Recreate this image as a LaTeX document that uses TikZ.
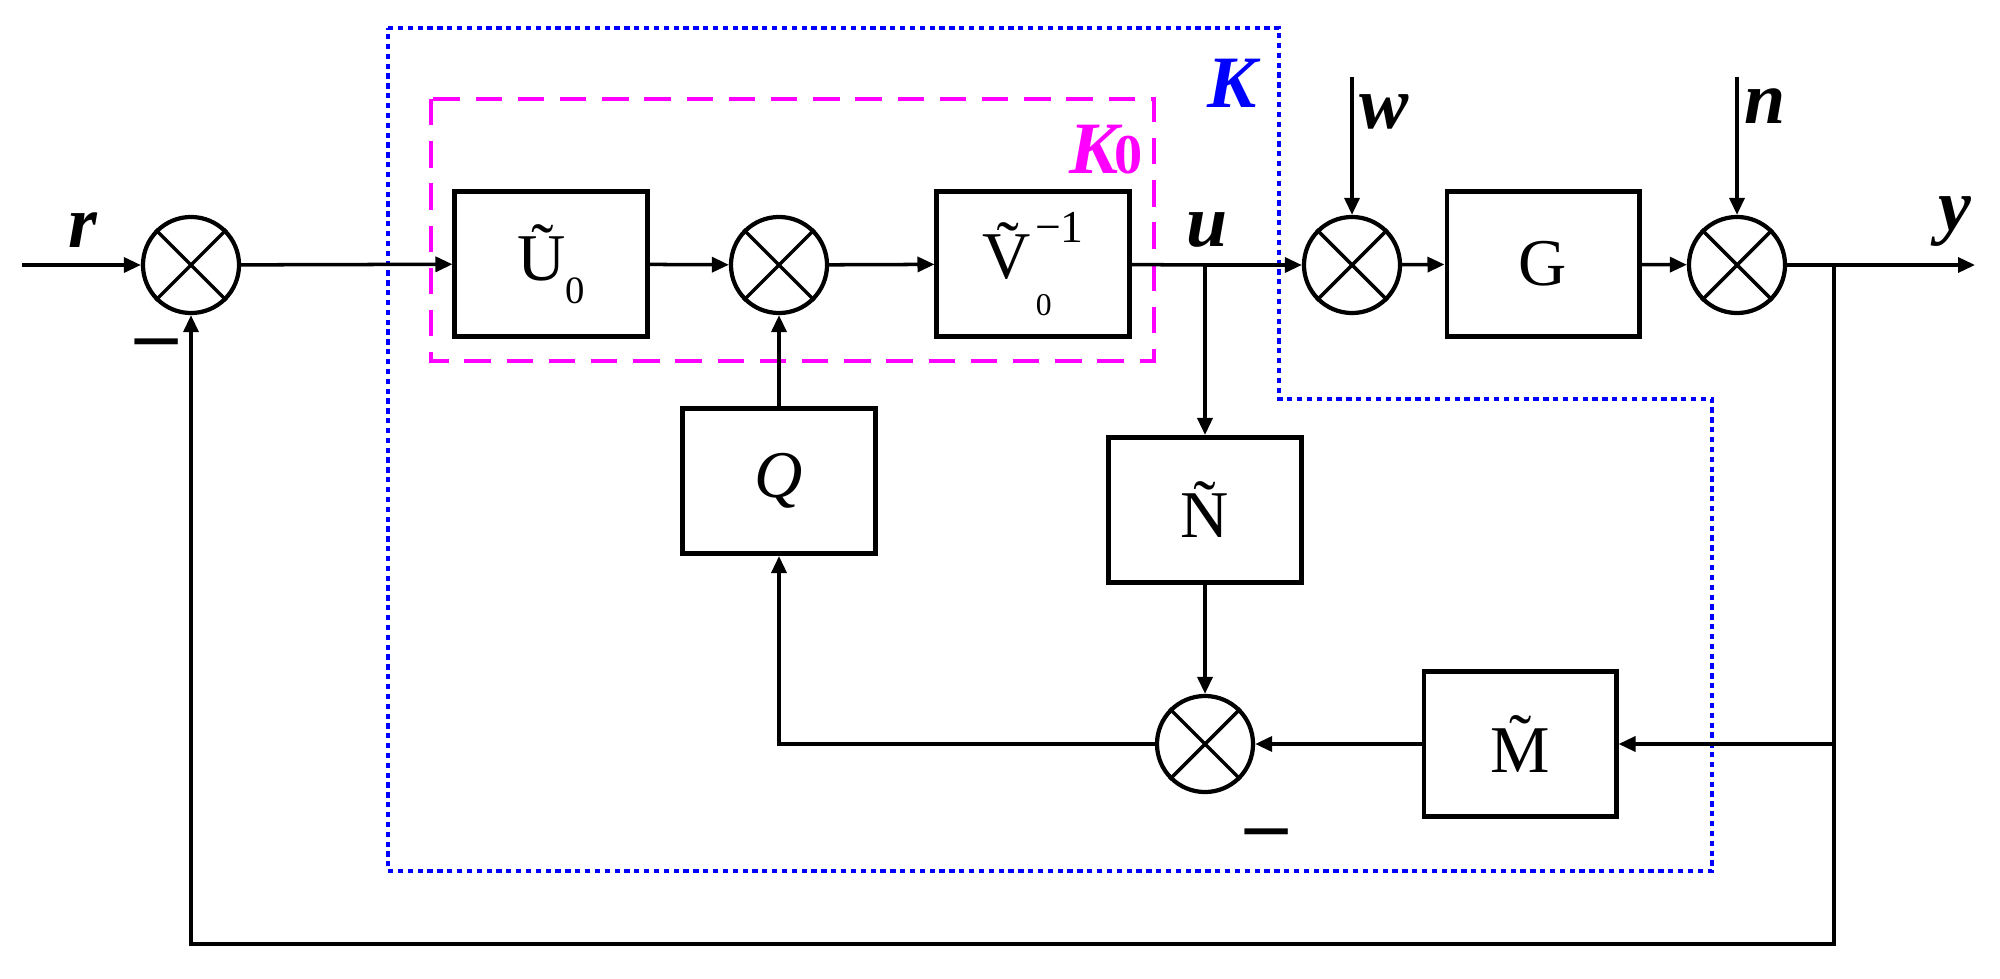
\documentclass[tikz,border=0pt]{standalone}
\usepackage{fontspec}
\setmainfont{Liberation Serif}
\usetikzlibrary{arrows.meta}
\definecolor{kmag}{RGB}{255,0,255}
\definecolor{kblue}{RGB}{0,0,255}
\begin{document}
\begin{tikzpicture}[x=0.01cm,y=-0.01cm,
  line/.style={line width=1pt},
  arr/.style={line width=1pt,-{Triangle[length=0.17cm,width=0.15cm]}},
  blk/.style={draw,line width=1.4pt,minimum width=1.92cm,minimum height=1.45cm,inner sep=0pt,
    font=\fontsize{19}{22}\selectfont},
  sumj/.style={circle,draw,line width=1.2pt,minimum size=0.96cm,inner sep=0pt},
  sig/.style={font=\fontsize{21}{24}\selectfont\bfseries\itshape},
  minus/.style={font=\fontsize{24}{26}\selectfont\bfseries}]
\useasboundingbox (0,0) rectangle (2000,979);

% outer K (blue dotted) and K0 (magenta dashed)
\draw[kblue,line width=0.9pt,dash pattern=on 1.5pt off 1.3pt]
  (388,28) -- (1279,28) -- (1279,399) -- (1712,399) -- (1712,871) -- (388,871) -- cycle;
\draw[kmag,line width=1.2pt,dash pattern=on 7.5pt off 4.5pt] (431,99) rectangle (1154,361);
\node[sig,text=kblue] (K) at (1232,83) {K};
\node[sig,text=kmag] (K0) at (1106,150) {K\kern-0.05em\textup{\fontsize{16}{18}\selectfont 0}};

% sums
\node[sumj] (s1) at (191,265) {};
\node[sumj] (s2) at (779,265) {};
\node[sumj] (s3) at (1352,265) {};
\node[sumj] (s4) at (1737,265) {};
\node[sumj] (s5) at (1205,744) {};
\foreach \s in {s1,s2,s3,s4,s5}{
  \draw[line width=1pt] (\s.north east) -- (\s.south west);
  \draw[line width=1pt] (\s.north west) -- (\s.south east);
}

% blocks
\node[blk] (U) at (551,264) {\~U\raisebox{-0.35em}{\fontsize{11}{12}\selectfont 0}};
\node[blk] (V) at (1033,264) {\~V\raisebox{-0.55em}{\fontsize{9}{10}\selectfont\,0}\kern-0.25em\raisebox{0.55em}{\fontsize{13}{14}\selectfont −1}};
\node[blk] (G) at (1543,264) {G};
\node[blk] (Q) at (779,481) {\textit{Q}};
\node[blk] (N) at (1205,510) {\~N};
\node[blk] (M) at (1520,744) {\~M};

% coordinates
\coordinate (in) at (22,265);
\coordinate (ub) at (1205,265);
\coordinate (yb) at (1834,265);
\coordinate (out) at (1975,265);
\coordinate (wtop) at (1352,77);
\coordinate (ntop) at (1737,77);
\coordinate (bot) at (1834,944);

% connectors
\draw[arr] (in) -- (s1);
\draw[arr] (s1) -- (U);
\draw[arr] (U) -- (s2);
\draw[arr] (s2) -- (V);
\draw[line] (V) -- (ub);
\draw[arr] (ub) -- (s3);
\draw[arr] (s3) -- (G);
\draw[arr] (G) -- (s4);
\draw[arr] (s4) -- (out);
\draw[arr] (wtop) -- (s3);
\draw[arr] (ntop) -- (s4);
\draw[arr] (ub) -- (N);
\draw[arr] (N) -- (s5);
\draw[arr] (yb) |- (M);
\draw[arr] (M) -- (s5);
\draw[arr] (s5) -| (Q);
\draw[arr] (Q) -- (s2);
\draw[arr] (yb) -- (bot) -| (s1);

% labels
\node[sig] (lr) at (83,230) {r};
\node[sig] (lu) at (1207,230) {u};
\node[sig] (lw) at (1384,112) {w};
\node[sig] (ln) at (1765,106) {n};
\node[sig] (ly) at (1955,222) {y};
\node[minus] (m1) at (157,350) {–};
\node[minus] (m2) at (1267,840) {–};
\end{tikzpicture}
\end{document}
